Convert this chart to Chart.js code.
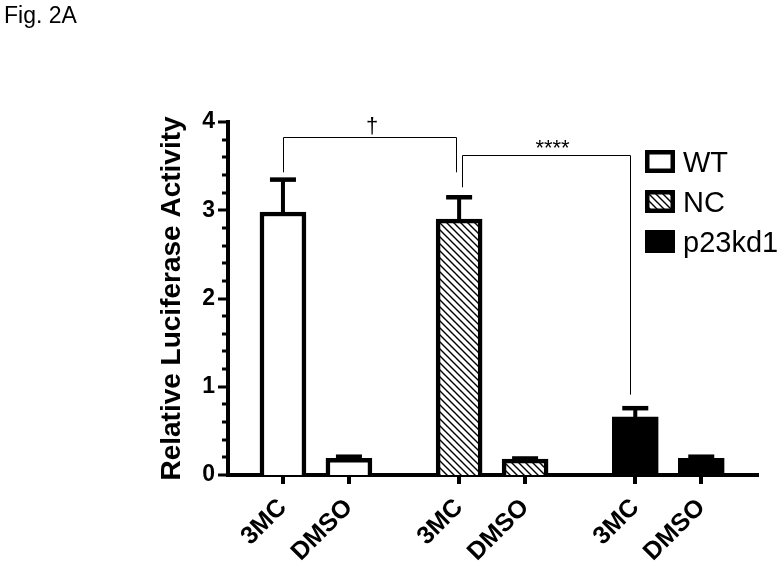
<!DOCTYPE html>
<html>
<head>
<meta charset="utf-8">
<script src="https://cdn.jsdelivr.net/npm/chart.js@4.4.0/dist/chart.umd.min.js"></script>
<style>
  html, body { margin: 0; padding: 0; background: #fff; }
  #wrap { width: 782px; height: 567px; position: relative; }
</style>
</head>
<body>
<div id="wrap"><canvas id="c" width="782" height="567"></canvas></div>
<script>
// ---------------- data ----------------
const treatments = ['3MC', 'DMSO'];
const seriesNames = ['WT', 'NC', 'p23kd1'];
const wtMean = [2.98, 0.19];
const wtSem  = [0.37, 0.02];
const ncMean = [2.90, 0.18];
const ncSem  = [0.25, 0.01];
const kdMean = [0.66, 0.19];
const kdSem  = [0.10, 0.02];
const yMin = 0, yMax = 4, yMinorStep = 0.2;
const figLabel = 'Fig. 2A';
const yTitle = 'Relative Luciferase Activity';
// significance brackets: [group, treatment] of each end, bracket height, leg ends (y values)
const sig1From = [0, 0], sig1To = [1, 0], sig1Top = 3.83, sig1Legs = [3.43, 3.43], sig1Text = '\u2020';
const sig2From = [1, 0], sig2To = [2, 0], sig2Top = 3.63, sig2Legs = [3.26, 0.91], sig2Text = '****';

// ---------------- layout helpers ----------------
const FONT = "'Liberation Sans', Arial, Helvetica, sans-serif";
const GROUP_STEP = 2.67;
const pos = (g, t) => g * GROUP_STEP + t;
const means = [wtMean, ncMean, kdMean];
const sems = [wtSem, ncSem, kdSem];

const canvas = document.getElementById('c');
const ctx = canvas.getContext('2d');

function makeHatch() {
  const s = 7;
  const c = document.createElement('canvas');
  c.width = s; c.height = s;
  const g = c.getContext('2d');
  g.fillStyle = '#fff'; g.fillRect(0, 0, s, s);
  g.strokeStyle = '#000'; g.lineWidth = 1.4;
  g.beginPath();
  g.moveTo(-1, -1); g.lineTo(s + 1, s + 1);
  g.moveTo(-1, s - 1); g.lineTo(1, s + 1);
  g.moveTo(s - 1, -1); g.lineTo(s + 1, 1);
  g.stroke();
  return ctx.createPattern(c, 'repeat');
}
const fills = ['#ffffff', makeHatch(), '#000000'];

const xTickValues = [];
const xTickLabels = [];
seriesNames.forEach((n, g) => treatments.forEach((t, i) => { xTickValues.push(pos(g, i)); xTickLabels.push(t); }));

const datasets = seriesNames.map((name, g) => ({
  label: name,
  data: treatments.map((t, i) => ({ x: pos(g, i), y: means[g][i] })),
  sem: sems[g],
  backgroundColor: fills[g],
  borderColor: '#000',
  borderWidth: 4.5,
  borderSkipped: 'bottom',
  barThickness: 46,
  grouped: false
}));

const isMajor = v => Math.abs(v - Math.round(v)) < 1e-6;

const decor = {
  id: 'decor',
  afterDraw(chart) {
    const c = chart.ctx;
    const xs = chart.scales.x, ys = chart.scales.y;
    const area = chart.chartArea;
    c.save();
    c.fillStyle = '#000';
    c.strokeStyle = '#000';

    // error bars (upper)
    chart.data.datasets.forEach((ds, di) => {
      const meta = chart.getDatasetMeta(di);
      meta.data.forEach((bar, i) => {
        const v = ds.data[i].y + ds.sem[i];
        const yTop = ys.getPixelForValue(v);
        c.fillRect(bar.x - 2, yTop, 4, bar.y - yTop + 2);
        c.fillRect(bar.x - 13, yTop - 2, 26, 4.5);
      });
    });

    // y axis ticks (major + minor)
    ys.ticks.forEach(t => {
      const y = ys.getPixelForValue(t.value);
      const len = isMajor(t.value) ? 10 : 6;
      c.fillRect(area.left - len, Math.round(y) - 1.5, len, 3);
    });
    // x axis ticks
    xTickValues.forEach(v => {
      const x = xs.getPixelForValue(v);
      c.fillRect(Math.round(x) - 2, area.bottom, 4, 9);
    });

    // significance brackets
    c.lineWidth = 1;
    function bracket(from, to, top, legs, text, dl, dr, fontSize, tdx, tdy) {
      const x1 = Math.round(xs.getPixelForValue(pos(from[0], from[1])) + dl) + 0.5;
      const x2 = Math.round(xs.getPixelForValue(pos(to[0], to[1])) + dr) + 0.5;
      const yt = Math.round(ys.getPixelForValue(top)) + 0.5;
      c.beginPath();
      c.moveTo(x1, ys.getPixelForValue(legs[0]));
      c.lineTo(x1, yt);
      c.lineTo(x2, yt);
      c.lineTo(x2, ys.getPixelForValue(legs[1]));
      c.stroke();
      c.font = fontSize + 'px ' + FONT;
      c.textAlign = 'center';
      c.textBaseline = 'alphabetic';
      c.fillText(text, (x1 + x2) / 2 + tdx, yt + tdy);
    }
    bracket(sig1From, sig1To, sig1Top, sig1Legs, sig1Text, 0, -3, 22, 2, -5);
    bracket(sig2From, sig2To, sig2Top, sig2Legs, sig2Text, 3, -5, 22, 6, -1);

    // legend
    const lx = 645, ly0 = 150, lstep = 40, bw = 30, bh = 23;
    c.font = '29px ' + FONT;
    c.textAlign = 'left';
    c.textBaseline = 'alphabetic';
    chart.data.datasets.forEach((ds, i) => {
      const y = ly0 + i * lstep;
      c.fillStyle = ds.backgroundColor;
      c.fillRect(lx, y, bw, bh);
      c.strokeStyle = '#000';
      c.lineWidth = 4.5;
      c.strokeRect(lx + 2.25, y + 2.25, bw - 4.5, bh - 4.5);
      c.fillStyle = '#000';
      c.fillText(ds.label, lx + 38, y + 22);
    });

    // figure label
    c.font = '23px ' + FONT;
    c.fillText(figLabel, 4, 23);
    c.restore();
  }
};

new Chart(canvas, {
  type: 'bar',
  data: { datasets },
  options: {
    responsive: false,
    animation: false,
    devicePixelRatio: 1,
    layout: { padding: { top: 122, right: 24, bottom: 0, left: 0 } },
    plugins: { legend: { display: false }, tooltip: { enabled: false }, title: { display: false } },
    scales: {
      x: {
        type: 'linear',
        min: -0.833,
        max: 7.2,
        offset: false,
        z: 1,
        grid: { display: false, drawTicks: false, offset: false },
        border: { display: true, color: '#000', width: 4 },
        afterBuildTicks: axis => { axis.ticks = xTickValues.map(v => ({ value: v })); },
        afterFit: axis => { axis.height = 92; axis.paddingLeft = 0; axis.paddingRight = 0; },
        ticks: {
          autoSkip: false, minRotation: 45, maxRotation: 45,
          padding: 18, labelOffset: 0, color: '#000',
          font: { family: FONT, size: 25, weight: 'bold' },
          callback: (v, i) => xTickLabels[i]
        }
      },
      y: {
        type: 'linear',
        min: yMin,
        max: yMax,
        z: 1,
        grid: { display: false, drawTicks: false },
        border: { display: true, color: '#000', width: 4 },
        afterFit: axis => { axis.width = 228; axis.paddingTop = 0; axis.paddingBottom = 0; },
        ticks: {
          stepSize: yMinorStep, autoSkip: false, padding: 13, color: '#000',
          font: { family: FONT, size: 23, weight: 'bold' },
          callback: v => isMajor(v) ? String(Math.round(v)) : ''
        },
        title: {
          display: true, text: yTitle, color: '#000',
          font: { family: FONT, size: 28, weight: 'bold' },
          padding: { top: 155, bottom: 0 }
        }
      }
    }
  },
  plugins: [decor]
});
</script>
</body>
</html>
